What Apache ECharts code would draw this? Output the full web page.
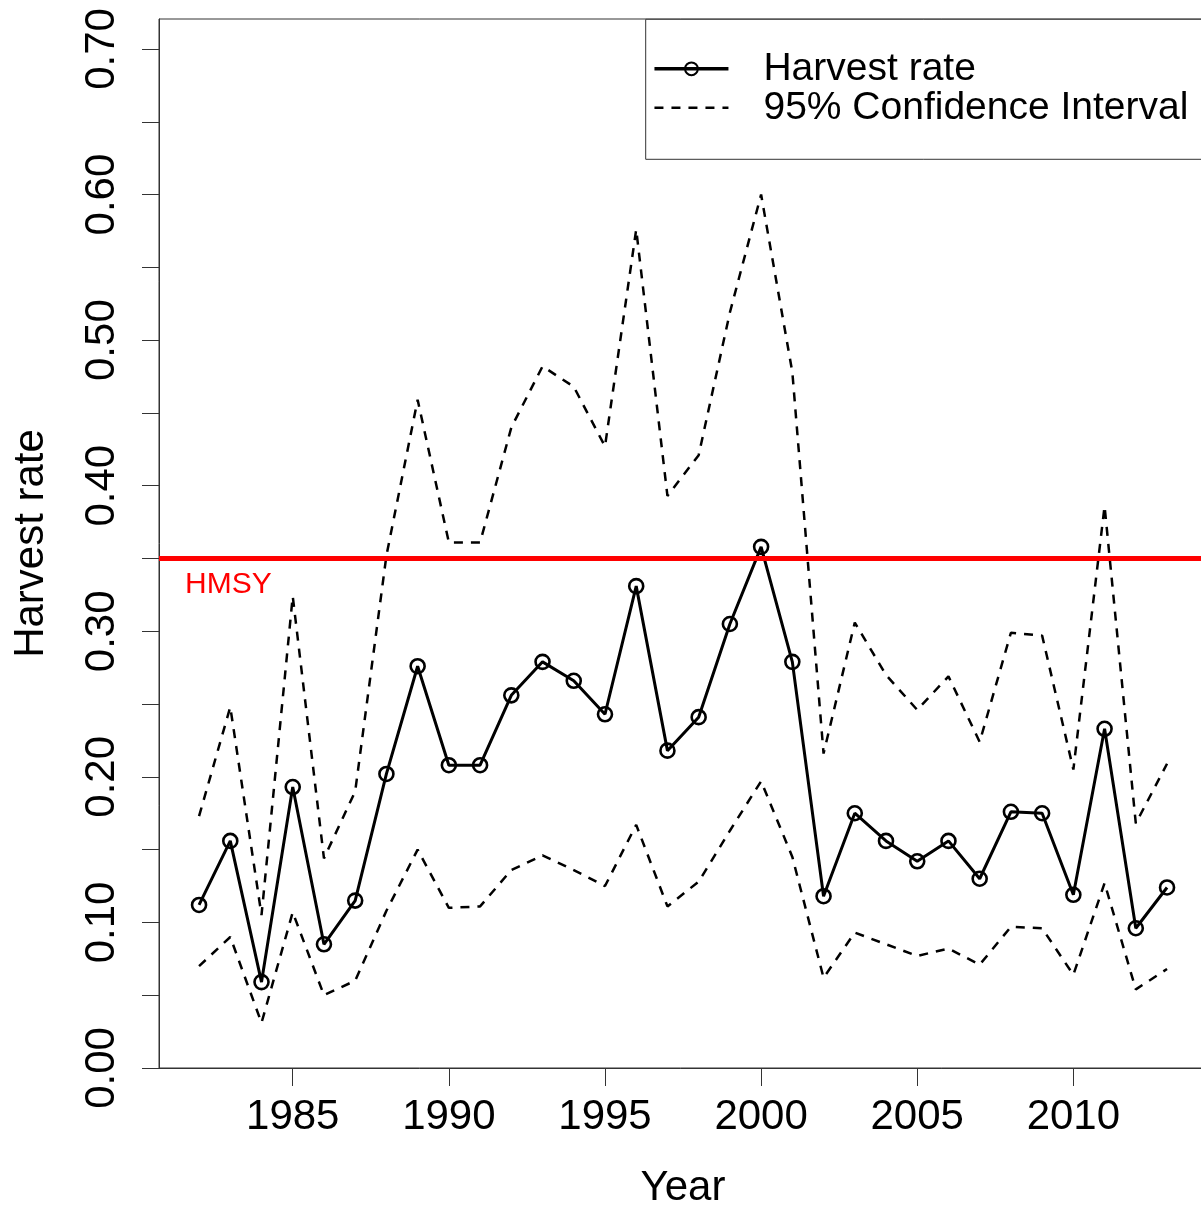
<!DOCTYPE html>
<html><head><meta charset="utf-8">
<script src="https://cdn.jsdelivr.net/npm/echarts@6/dist/echarts.min.js"></script>
<style>html,body{margin:0;padding:0;background:#fff}#c{width:1201px;height:1207px}</style>
</head><body><div id="c"></div>
<script>
const years = [1982,1983,1984,1985,1986,1987,1988,1989,1990,1991,1992,1993,1994,1995,1996,1997,1998,1999,2000,2001,2002,2003,2004,2005,2006,2007,2008,2009,2010,2011,2012,2013];
const harvestRate = [0.112,0.156,0.059,0.193,0.085,0.115,0.202,0.276,0.208,0.208,0.256,0.279,0.266,0.243,0.331,0.218,0.241,0.305,0.358,0.279,0.118,0.175,0.156,0.142,0.156,0.130,0.176,0.175,0.119,0.233,0.096,0.124];
const ciUpper = [0.173,0.248,0.105,0.324,0.144,0.190,0.352,0.459,0.361,0.361,0.440,0.482,0.468,0.427,0.576,0.393,0.421,0.519,0.600,0.478,0.216,0.306,0.270,0.246,0.269,0.224,0.299,0.297,0.205,0.386,0.168,0.209];
const ciLower = [0.070,0.090,0.031,0.107,0.050,0.060,0.108,0.150,0.110,0.111,0.136,0.146,0.136,0.125,0.167,0.111,0.128,0.163,0.197,0.145,0.062,0.093,0.085,0.077,0.082,0.071,0.097,0.096,0.064,0.127,0.054,0.068];
const hmsyValue = 0.35;
const xTickYears = [1985,1990,1995,2000,2005,2010];
const yTickValues = [0,0.05,0.10,0.15,0.20,0.25,0.30,0.35,0.40,0.45,0.50,0.55,0.60,0.65,0.70];
const yLabelValues = [0,0.10,0.20,0.30,0.40,0.50,0.60,0.70];

const FONT = 'Liberation Sans, Arial, sans-serif';
const AXC = '#333';
const pairs = arr => years.map((y, i) => [y, arr[i]]);
const dash = [9, 8];

const chart = echarts.init(document.getElementById('c'), null, {renderer: 'canvas'});
chart.setOption({
  animation: false,
  backgroundColor: '#fff',
  textStyle: {fontFamily: FONT},
  grid: {left: 159, top: 19, right: -6, bottom: 139, containLabel: false, outerBoundsMode: 'none',
         show: true, borderColor: AXC, borderWidth: 1, backgroundColor: 'transparent'},
  xAxis: {
    type: 'value', min: 1980.717, max: 2014.28,
    name: 'Year', nameLocation: 'middle', nameGap: 99,
    nameTextStyle: {fontSize: 42, color: '#000', fontFamily: FONT},
    axisLine: {show: true, lineStyle: {color: AXC, width: 1}},
    axisTick: {show: true, length: 18, lineStyle: {color: AXC, width: 1}, customValues: xTickYears},
    axisLabel: {fontSize: 42, color: '#000', margin: 28, fontFamily: FONT, customValues: xTickYears,
                formatter: v => String(v)},
    splitLine: {show: false}
  },
  yAxis: {
    type: 'value', min: 0, max: 0.7206,
    name: 'Harvest rate', nameLocation: 'middle', nameGap: 107,
    nameTextStyle: {fontSize: 42, color: '#000', fontFamily: FONT},
    axisLine: {show: true, lineStyle: {color: AXC, width: 1}},
    axisTick: {show: true, length: 17, lineStyle: {color: AXC, width: 1}, customValues: yTickValues},
    axisLabel: {fontSize: 42, color: '#000', margin: 36, rotate: 90, fontFamily: FONT,
                customValues: yLabelValues, formatter: v => Number(v).toFixed(2)},
    splitLine: {show: false}
  },
  legend: {
    show: true, orient: 'vertical', left: 645.7, top: 19.3,
    padding: [30, 60, 32, 7], itemGap: 0,
    itemWidth: 74, itemHeight: 16,
    borderColor: AXC, borderWidth: 1, backgroundColor: '#fff',
    selectedMode: false,
    textStyle: {fontSize: 39, color: '#000', fontFamily: FONT, lineHeight: 38.5, padding: [0, 0, 0, 30]},
    data: [
      {name: 'Harvest rate',
       itemStyle: {color: 'rgba(0,0,0,0)', borderColor: '#000', borderWidth: 2},
       lineStyle: {color: '#000', width: 3.5, type: 'solid'}},
      {name: '95% Confidence Interval',
       itemStyle: {color: 'rgba(0,0,0,0)', borderColor: 'rgba(0,0,0,0)', borderWidth: 0},
       lineStyle: {color: '#000', width: 2.5, type: dash}}
    ]
  },
  series: [
    {
      type: 'line', name: 'HMSY', data: [], z: 1, silent: true,
      markLine: {
        silent: true, symbol: 'none', animation: false,
        lineStyle: {color: '#ff0000', width: 5, type: 'solid'},
        label: {show: true, position: 'insideStartBottom', formatter: 'HMSY',
                color: '#ff0000', fontSize: 30, fontFamily: FONT, distance: [26, 11]},
        emphasis: {disabled: true},
        data: [{yAxis: hmsyValue}]
      }
    },
    {
      type: 'line', name: '95% Confidence Interval', data: pairs(ciUpper), z: 3,
      symbol: 'none', silent: true,
      lineStyle: {color: '#000', width: 2.5, type: dash},
      itemStyle: {color: '#000'}
    },
    {
      type: 'line', name: '95% Confidence Interval', data: pairs(ciLower), z: 3,
      symbol: 'none', silent: true,
      lineStyle: {color: '#000', width: 2.5, type: dash},
      itemStyle: {color: '#000'}
    },
    {
      type: 'line', name: 'Harvest rate', data: pairs(harvestRate), z: 4,
      symbol: 'circle', symbolSize: 14, showSymbol: true, silent: true,
      lineStyle: {color: '#000', width: 3},
      itemStyle: {color: 'rgba(0,0,0,0)', borderColor: '#000', borderWidth: 2.6}
    }
  ]
});
</script>
</body></html>
